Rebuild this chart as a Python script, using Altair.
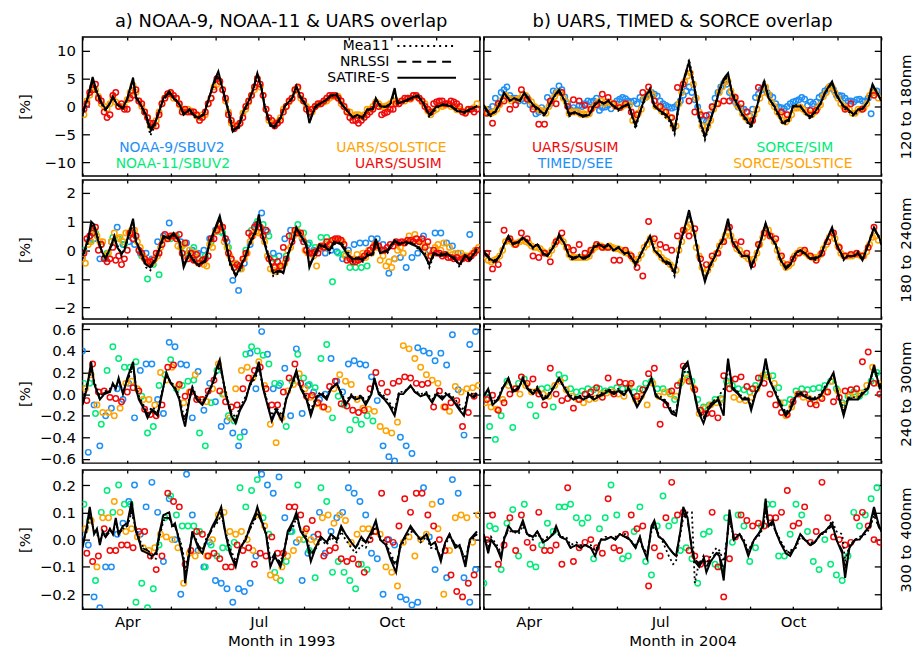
import altair as alt
import pandas as pd

FONT = "DejaVu Sans"
STEP = 4  # spacing (days) of the plotted instrument samples

INSTRUMENTS = ["NOAA-9/SBUV2", "NOAA-11/SBUV2", "UARS/SOLSTICE", "UARS/SUSIM",
               "TIMED/SEE", "SORCE/SIM", "SORCE/SOLSTICE"]
INST_COLORS = ["#1e8ff5", "#00ec78", "#ffa300", "#f00a0a",
               "#1e8ff5", "#00ec78", "#ffa300"]

MONTH_DAYS = [0, 31, 61, 92, 122, 153, 184, 214, 245, 275]   # days since 1 March
X_DOMAIN = [0, 275]
YEARS = ["1993", "2004"]
TITLES = ["a) NOAA-9, NOAA-11 & UARS overlap", "b) UARS, TIMED & SORCE overlap"]
BANDS = ["120 to 180nm", "180 to 240nm", "240 to 300nm", "300 to 400nm"]
Y_DOMAINS = [[-12.5, 12.5], [-2.4, 2.45], [-0.64, 0.65], [-0.255, 0.255]]
Y_TICKS = [[-10, -5, 0, 5, 10], [-2, -1, 0, 1, 2],
           [-0.6, -0.4, -0.2, 0, 0.2, 0.4, 0.6], [-0.2, -0.1, 0, 0.1, 0.2]]
Y_FORMATS = ["d", "d", ".1f", ".1f"]

# ---------------- 120-180 nm, 1993 ----------------
r1l_days = [0,4,7,10,13,16,19,21,24,28,31,35,37,40,44,47,50,53,56,60,63,67,70,74,77,80,84,87,91,94,
            98,101,104,108,111,115,118,121,124,126,130,133,137,140,145,148,151,155,157,161,164,168,172,176,179,184,187,190,194,197,
            201,203,206,210,213,216,218,223,227,232,236,240,245,250,255,259,264,268,273]
r1l_satire = [-1.3,2,5.3,2.5,0.8,-0.5,0.5,1.8,0.3,-0.3,1.5,5.2,1.5,0.5,-1.5,-4,-3,-1,1.5,2.7,
              1.5,0.5,-1.5,-0.5,-1.5,-2,-1.5,1,4.5,6.3,2,-1,-4.5,-3.5,-1,1,3,6,3,0,
              -3.5,-3.5,-2,0,1.5,3.7,1.5,0,-3,0,0.5,1,2,2,0.5,-1,-2,-1.5,-2,-0.5,
              -0.5,1.5,0,0,0.5,3.3,0.5,1,1.5,2,0.5,-1.5,0,0.3,0,-0.8,-1,-0.5,0]
r1l_mea11 = [-1.8,1.5,4.8,2.8,0.5,-0.8,0.8,1.5,0.5,-0.5,1.2,4.5,2,0.3,-2,-5.2,-3.5,-0.5,1.2,2.3,
             1.8,0.3,-1.2,-0.8,-1.8,-2.3,-1.2,1.2,4,5.5,2.5,-0.5,-4,-4,-1.5,0.8,2.8,5.5,3.5,0.3,
             -3,-4,-2.3,0.2,1.3,3.3,2,0.3,-2.5,-0.3,0.3,1.2,1.8,2.3,0.8,-1.2,-1.8,-1.8,-2.3,-0.8,
             -0.3,1.2,0.3,-0.3,0.3,2.5,1,0.8,1.3,1.8,0.8,-2,-0.3,0.5,0.2,-0.5,-1.2,-0.8,0.2]
r1l_nrlssi = [-1.5,1.8,4.5,2.2,0.6,-0.6,0.6,1.6,0.4,-0.4,1.3,4.8,1.8,0.4,-1.8,-4.5,-3.2,-0.8,1.3,2.5,
              1.6,0.4,-1.3,-0.6,-1.6,-2.1,-1.3,1.1,4.2,5.8,2.2,-0.8,-4.2,-3.8,-1.2,0.9,2.9,5.7,3.2,0.1,
              -3.2,-3.8,-2.1,0.1,1.4,3.5,1.7,0.1,-2.7,-0.1,0.4,1.1,1.9,2.1,0.6,-1.1,-1.9,-1.6,-2.1,-0.6,
              -0.4,1.3,0.1,-0.1,0.4,2.8,0.7,0.9,1.4,1.9,0.6,-1.7,-0.1,0.4,0.1,-0.6,-1.1,-0.6,0.1]
r1l_solstice = [-1.5,2,3,0.5,-0.5,1.5,0,0,2.5,2.5,0,-2,-3.5,-1,1.5,2.3,1.5,-0.5,-0.5,-1,-2,-1.5,1.5,4,3,-1,-3.5,-3,
                -0.5,2,5,2,-2.5,-3,-2,0,1.5,3.3,1,-1,0,0.5,1,1.8,1.8,0,-1,-1.5,-1.8,-0.5,0,0.5,0,0.5,1,1,1.5,2,
                1.5,0.5,-1.5,-0.5,0,0.5,0,-0.5,-1,-0.5,0.5]
r1l_solstice_b = [1,3.5,1.8,0,0.5,0.8,0,1.2,3.8,1,-1,-3.5,-2.5,0.5,2.2,1.5,0.3,-1,-0.8,-1.7,-1.5,0.5,3.5,4.5,1,-3,
                  -3.3,-1.2,0.8,3,3.5,-0.5,-3,-2.8,-0.5,0.8,2.8,1.5,0,-1,0.3,0.8,1.5,1.8,0.5,-0.8,-1.7,-1.5,-1.5,-0.5,
                  0.8,0,0.2,1,0.5,1,1.3,1.8,0.8,-0.8,-0.8,0.2,0.2,0,-0.6,-0.8,-0.6,-0.2]
r1l_susim = [0.5,3,1.5,-1,-1.5,2.5,0.5,-0.5,2,1,-1,-3,-3.5,0.5,2.3,2,0.5,-0.5,-1,-1.5,-2,0.5,3,4.5,1.5,-2.5,-3.5,-2,
             1,3.5,4,-0.5,-2.5,-3,-1,1,3,2,-0.5,-0.5,0.5,1,2,2,1,-1,-2.5,-3,-2,-1,0.5,-1.5,-1,-0.5,0.5,1.5,1.5,2,
             1,-0.5,0.5,1,0.5,1,0.5,-1,-0.5,-1]
r1l_susim_b = [-0.5,2.5,4,1,-2,2,0,-0.5,1.5,3,0.5,-2,-3,-1.5,1.5,2.5,1.5,-1,-1,-1,-2.5,-1,1.5,5,3,-1.5,-4,-3,0,2,
               5,2,-2,-3.5,-2.5,0,1.5,3.5,1,-1,0,0.5,1.5,2,1.5,0,-2,-2.5,-2.5,-1.5,-0.5,0,-1.2,-0.5,0.5,1,1.5,2,
               1.5,0,-1,0.8,1,0.5,0.8,0,-1.2,-0.5,-0.5]

# ---------------- 120-180 nm, 2004 ----------------
r1r_days = [0,4,8,11,14,18,21,25,28,32,35,38,42,45,49,52,56,59,63,66,69,73,76,80,83,86,90,93,97,100,
            105,108,112,115,118,123,128,132,136,139,142,146,149,153,156,160,163,166,169,172,176,179,182,185,188,191,194,197,201,204,
            207,211,214,219,222,226,229,233,236,241,244,249,252,256,259,262,266,269,273,275]
r1r_satire = [0,-1.5,-1,0.5,2.5,1,1.5,1,2.5,1,0,-0.5,-1.5,0,2,3,1,-1.5,-1,-1.5,
              -1.8,-1.5,0,1,0.5,1,0,-0.5,0,0.5,-3.5,-1,2,3,0,-1,-2,-4.5,2,5.5,
              8,3,-2,-5.5,-3,0,3,5,6,2,0,-1.5,-2.5,-3.5,-1,2,4.5,1.5,0,-1.5,
              -3,-2.5,0,0,-1,-2,-1,0.5,2.5,4.5,2,0,-0.5,-1.5,-0.5,-0.5,1,4,2,1]
r1r_mea11 = [0.3,-2,-0.8,0.8,2.2,1.2,1.2,1.3,2.2,0.8,-0.3,-0.8,-1.8,0.3,1.8,2.8,0.8,-1.8,-1.2,-1.3,
             -2,-1.3,0.3,1.2,0.3,1.2,-0.2,-0.8,0.2,0.3,-4,-1.3,1.8,3.3,0.3,-1.3,-2.5,-5,1.5,5,
             8.5,3.5,-2.5,-6,-3.5,0.3,2.8,4.5,5.5,2.5,0.3,-1.8,-2.8,-4,-1.3,1.8,4.8,1.8,-0.3,-1.8,
             -3.3,-2.8,0.3,0.2,-1.2,-2.3,-1.2,0.3,2.3,4.3,2.3,-0.3,-0.8,-1.8,-0.8,-0.3,0.8,3.8,2.3,1.2]
r1r_nrlssi = [0.2,-1.3,-0.9,0.6,2.3,1.1,1.4,1.1,2.3,0.9,0.1,-0.4,-1.4,0.1,1.9,2.7,1.1,-1.3,-1.1,-1.4,
              -1.6,-1.4,0.1,0.9,0.6,0.9,0.1,-0.4,0.1,0.4,-3.2,-1.1,1.9,2.8,0.1,-0.9,-1.8,-4.2,2.2,5.2,
              7.5,3.2,-1.8,-5.2,-2.8,0.1,2.9,4.7,5.7,2.2,0.1,-1.4,-2.3,-3.3,-0.9,2.1,4.3,1.6,0.1,-1.4,
              -2.8,-2.3,0.1,0.1,-0.9,-1.8,-0.9,0.6,2.4,4.2,2.1,0.1,-0.4,-1.4,-0.4,-0.4,0.9,3.7,2.1,1.1]
r1r_see = [-0.5,-1,1.5,2.5,3.5,1.5,1,1,0.3,-1.3,-0.2,1.6,2.8,3.7,1.7,-0.6,-0.7,0,1,1,-0.7,-0.1,-0.4,1,1.6,1,1,1.6,
           1.6,2.5,1.9,0.5,-0.1,-0.1,1,2.8,2.5,-0.1,-2.5,-1.5,1.5,3.5,4,1.5,-0.1,-0.5,-1.7,1.6,3,2.5,1.6,-0.1,-0.4,0.5,
           1,1.6,0.2,0.5,1.6,2.8,3.7,2,1.9,1,0.8,1.3,1,-1.3,2.8]
r1r_see_b = [-1,0,0.5,3,2,1.5,1.3,1.6,0,-1,-0.8,0.5,2.5,3,0.5,-0.2,0.2,0.5,0.8,1.5,-0.2,0.2,0.5,1.3,1.4,0.8,0.5,1.2,
             2.2,2.2,1,0.2,-0.3,0.3,2,3.5,1.2,-1.8,-2.8,0,2.5,4.2,2.5,0.8,-0.3,-1,-0.5,2.2,3.5,2,0.5,-0.2,0,0.8,
             1.2,1.3,0.8,0.8,2,3.2,3,2,1.5,1,1.2,1,1.5,2.5]
r1r_solstice = [-0.5,-1.2,-0.5,1.3,1.5,1.2,1.5,2,0.8,-0.3,-0.8,0,1.8,2.5,0.8,-1,-1,-1.3,-1.3,0.2,1,0.8,0.5,0,0.2,0.3,
                -2,-0.5,1.8,2,0,-1,-2,-3.5,2.5,5.5,4,-1,-4.5,-2.5,0.5,3.5,4.5,1.8,-0.2,-2,-2.8,-0.5,2.5,2.2,0,-1.5,
                -2.8,-1.5,-0.3,-0.5,-1.3,-1,0.3,2.5,3.5,1.5,0,-0.5,-1.2,-0.5,0.5,2.8,1.5]
r1r_solstice_b = [-1.2,-1,0.3,2,1,1.2,2.2,1.2,0,-0.7,-1.2,0.8,2.5,1.5,-1.2,-1,-1.4,-1.5,-0.3,0.8,0.5,0.8,0,-0.2,0.3,
                  -2.5,-1.2,1.5,2.5,0,-0.8,-1.7,-3.5,0.5,4.5,6,1.5,-3.5,-3.5,-0.5,2.5,4.5,2.8,0.3,-1.3,-2.5,-1.5,1.5,
                  3.5,0.8,-1,-2.5,-2.2,-0.3,-0.1,-1,-1.5,-0.3,1.8,3.5,2.5,0.5,-0.3,-1.2,-0.5,-0.3,2,2.5]
r1r_susim = [-1.2,-3,0.5,1,-0.5,0.3,3,1.3,-0.5,-3.2,-3.2,1,0.5,2.5,0,1.2,1,0.2,-0.5,0.3,2.2,1.6,0.5,-0.2,0.5,-1,
             -1.5,2.5,3.5,1,0,-1,-2,3.4,4,1,-1,-1.5,-1.6,-0.1,0.5,1,1,1.6,0.5,-1,-2.5,3.4,None,None,None,-1,
             -1.5,None,None,None,-0.7,-0.7,None,None,None,None,-0.5,0.5,None,-0.5,None,2]

# ---------------- 180-240 nm, 1993 ----------------
r2l_days = [0,4,6,8,11,14,16,20,22,24,27,29,31,35,37,40,44,47,51,54,56,60,63,67,70,74,77,80,85,88,
            92,95,99,102,106,109,113,116,120,122,125,129,132,136,139,142,146,148,151,155,157,161,164,168,171,174,179,184,187,190,
            194,197,201,203,206,211,216,219,224,228,233,237,240,243,248,252,257,261,265,268,273]
r2l_satire = [-0.2,0.4,1.0,0.9,0.3,-0.1,-0.3,0.2,0.5,0.1,-0.1,0.0,0.4,1.1,0.3,0.0,-0.5,-0.6,-0.3,0.2,
              0.5,0.4,0.6,0.3,-0.6,-0.1,-0.4,-0.5,-0.4,0.3,0.8,1.2,0.3,-0.4,-0.9,-0.6,-0.2,0.3,0.7,1.25,
              0.4,-0.3,-0.8,-0.7,-0.8,-0.2,0.4,0.8,0.5,0.2,-0.6,-0.1,0.2,0.1,0.0,0.3,0.2,-0.2,-0.3,-0.3,
              -0.3,-0.2,-0.1,0.4,-0.1,0.0,0.35,0.2,0.3,0.2,0.1,-0.2,-0.5,-0.1,-0.2,-0.1,-0.3,-0.5,-0.2,-0.3,0.0]
r2l_mea11 = [-0.3,0.3,0.9,0.8,0.4,-0.2,-0.2,0.1,0.4,0.2,-0.2,0.1,0.3,0.9,0.4,-0.1,-0.6,-0.7,-0.2,0.1,
             0.4,0.5,0.5,0.4,-0.5,-0.2,-0.3,-0.6,-0.3,0.2,0.7,1.1,0.4,-0.5,-0.9,-0.7,-0.1,0.2,0.6,1.1,
             0.5,-0.2,-0.9,-0.8,-0.7,-0.1,0.3,0.7,0.6,0.1,-0.5,-0.2,0.1,0.2,-0.1,0.2,0.3,-0.1,-0.4,-0.2,
             -0.4,-0.1,-0.2,0.3,0.0,-0.1,0.3,0.3,0.2,0.3,0.0,-0.1,-0.6,-0.2,-0.1,-0.2,-0.2,-0.6,-0.1,-0.4,0.1]
r2l_nrlssi = [-0.2,0.35,0.85,0.85,0.35,-0.15,-0.25,0.15,0.45,0.15,-0.15,0.05,0.35,1.0,0.35,-0.05,-0.55,-0.55,-0.25,0.15,
              0.45,0.45,0.55,0.35,-0.5,-0.15,-0.35,-0.5,-0.35,0.25,0.75,1.1,0.35,-0.45,-0.85,-0.65,-0.15,0.25,0.65,1.15,
              0.45,-0.25,-0.8,-0.75,-0.75,-0.15,0.35,0.75,0.55,0.15,-0.5,-0.15,0.15,0.15,-0.05,0.25,0.25,-0.15,-0.35,-0.25,
              -0.35,-0.15,-0.15,0.35,-0.05,-0.05,0.3,0.25,0.25,0.25,0.05,-0.15,-0.5,-0.15,-0.15,-0.15,-0.25,-0.5,-0.15,-0.35,0.05]
r2l_noaa9 = [-0.3,0.3,0.4,-0.3,-0.3,0.3,0.8,0.2,0.3,0.2,-0.1,-0.1,-0.3,0.3,0.5,0.95,0.5,0.3,0.25,0,-0.1,0,0.4,0.7,
             0.65,0.3,-1.05,-1.4,-0.45,0.2,0.9,1.3,0.65,-0.1,-0.2,0.4,0.7,0.7,0.4,0.2,0,0.05,-0.1,0,-0.05,-0.3,0,0.2,
             0.25,0.25,0.4,0.4,0.2,-0.8,-0.3,-0.25,-0.6,-0.25,-0.1,0.5,0,0.6,0.6,0.25,0.15,-0.1,-0.2,0.55,0]
r2l_noaa11 = [0,0.3,0.6,0.2,-0.1,0.45,0.4,0.2,0.55,0.5,-0.2,-1,-0.5,-0.85,0.4,0.4,0.5,0.15,-0.1,0.1,-0.3,-0.2,0.3,0.65,
              0.6,0.1,-0.5,-0.65,0,0.7,1,0.9,0.5,-0.3,-0.55,-0.2,0.5,0.9,0.6,0.25,0.1,0.45,0.45,-1.1,-0.1,-0.15,-0.6,-0.6,
              -0.6,-0.55]
r2l_solstice = [-0.45,0.3,0.5,0.3,-0.1,0.6,0.45,0.6,0.7,0.3,-0.2,-0.4,-0.3,0.1,0.4,0.5,0.15,0.2,0,-0.1,-0.4,-0.55,0.1,0.7,
                0.3,-0.2,-0.45,-0.65,-0.1,0.5,0.6,0.3,-0.65,-0.75,-0.55,0,0.5,0.6,0,-0.1,-0.55,0.1,0.1,0.35,0.35,-0.2,-0.35,-0.15,
                -0.1,0,0.2,-0.35,-0.55,-0.6,0,-0.1,0.5,0.55,0.3,0.15,-0.1,0.2,0.25,0.1,-0.1,-0.1,-0.2,-0.1,0.1]
r2l_solstice_b = [-0.3,0.2,0.7,0.3,-0.2,0.3,0.4,0.3,0.6,0.7,0.1,-0.35,-0.45,-0.2,0.4,0.45,0.5,0.1,-0.2,-0.3,-0.45,-0.5,
                  0.2,0.65,0.8,0.1,-0.5,-0.6,-0.3,0.3,0.65,0.6,-0.2,-0.7,-0.6,-0.45,0.1,0.7,0.45,-0.1,-0.2,0.1,0.2,0.25,
                  0.35,0.3,-0.1,-0.3,-0.3,-0.25,-0.1,0.1,-0.2,-0.4,-0.3,0.1,0.3,0.35,0.2,0,-0.2,0.1,0,-0.15,-0.15,-0.25,
                  -0.2,-0.2,0]
r2l_susim = [0.4,0.6,0,-0.3,-0.3,-0.35,-0.5,0,0.4,0,-0.3,-0.4,-0.1,0.2,0.4,0.5,0.55,0.25,-0.1,-0.15,-0.35,-0.2,0.4,0.9,
             0.4,-0.3,-0.5,-0.3,0.6,0.8,0.8,0.7,-0.4,-0.4,0.1,0.5,0.7,0.6,0,-0.1,-0.1,0.1,0.2,0.4,0.35,-0.35,-0.4,-0.35,
             -0.2,0,0.2,0,0.1,0.15,0.25,0.25,0.35,0.4,0.4,0.3,0,-0.1,-0.15,-0.25,-0.25,-0.3,-0.3,-0.1]
r2l_susim_b = [-0.1,0.5,0.8,0.2,-0.4,0.1,-0.2,-0.3,0.6,0.5,-0.1,-0.4,-0.35,-0.1,0.55,0.5,0.4,-0.1,-0.3,-0.35,-0.45,-0.3,
               0.4,0.7,0.8,-0.1,-0.6,-0.55,-0.1,0.5,0.9,0.5,-0.3,-0.6,-0.55,-0.3,0.3,0.6,0.3,-0.1,-0.05,0.15,0.3,0.35,
               0.4,0.2,-0.3,-0.4,-0.3,-0.1,0.1,0.15,0,0.2,0.3,0.3,0.35,0.3,0.3,0.1,-0.2,-0.1,-0.2,-0.25,-0.3,-0.35,
               -0.25,-0.2,0]

# ---------------- 180-240 nm, 2004 ----------------
r2r_days = [0,4,8,11,14,17,20,24,27,30,34,37,41,44,48,51,52,56,59,62,66,69,73,76,80,83,86,90,93,97,
            100,105,108,112,115,118,122,125,129,132,136,139,142,146,149,153,156,160,163,165,169,172,176,179,183,185,188,192,195,198,
            202,205,209,212,216,219,222,226,229,233,236,241,244,249,252,256,259,262,266,270,274,275]
r2r_satire = [-0.1,-0.3,-0.4,-0.2,0.2,0.5,0.2,0.3,0.45,0.3,0.1,0.2,-0.1,-0.2,0.1,0.4,0.55,0.2,-0.2,-0.3,
              -0.2,-0.3,-0.2,0.1,0.2,0.1,0.2,0.0,0.1,-0.1,-0.1,-0.5,-0.2,0.2,0.5,0.0,-0.2,-0.4,-0.5,-0.8,
              0.3,0.8,1.4,0.5,-0.3,-1.1,-0.6,-0.2,0.2,0.3,1.1,0.3,0.0,-0.2,-0.2,-0.6,-0.2,0.4,0.95,0.5,
              0.2,-0.3,-0.65,-0.5,-0.1,0.0,-0.1,-0.3,-0.3,-0.2,0.2,0.8,0.2,-0.3,-0.2,-0.2,-0.1,-0.35,0.2,0.8,0.4,0.2]
r2r_mea11 = [0.0,-0.35,-0.45,-0.15,0.15,0.45,0.25,0.25,0.4,0.35,0.05,0.25,-0.15,-0.15,0.15,0.35,0.5,0.25,-0.25,-0.35,
             -0.15,-0.35,-0.15,0.15,0.25,0.05,0.25,-0.05,0.15,-0.15,-0.05,-0.55,-0.25,0.25,0.45,0.05,-0.25,-0.45,-0.55,-0.9,
             0.2,0.75,1.3,0.6,-0.35,-1.0,-0.7,-0.15,0.15,0.35,1.0,0.35,-0.05,-0.25,-0.15,-0.65,-0.25,0.35,0.9,0.55,
             0.15,-0.35,-0.6,-0.55,-0.05,-0.05,-0.15,-0.25,-0.35,-0.15,0.25,0.75,0.25,-0.35,-0.15,-0.25,-0.05,-0.3,0.15,0.75,0.45,0.25]
r2r_nrlssi = [-0.05,-0.25,-0.35,-0.2,0.2,0.45,0.2,0.3,0.4,0.3,0.1,0.2,-0.1,-0.2,0.1,0.35,0.5,0.2,-0.2,-0.25,
              -0.2,-0.25,-0.2,0.1,0.2,0.1,0.15,0.0,0.1,-0.1,-0.1,-0.45,-0.2,0.2,0.45,0.0,-0.2,-0.35,-0.45,-0.75,
              0.3,0.75,1.3,0.5,-0.3,-1.0,-0.55,-0.2,0.2,0.3,1.0,0.3,0.0,-0.2,-0.2,-0.55,-0.2,0.4,0.9,0.45,
              0.2,-0.3,-0.6,-0.45,-0.1,0.0,-0.1,-0.3,-0.25,-0.2,0.2,0.75,0.2,-0.25,-0.2,-0.2,-0.1,-0.3,0.2,0.75,0.4,0.2]
r2r_solstice = [-0.2,-0.4,-0.3,0,0.35,0.2,0.3,0.3,0.15,0.1,-0.05,-0.15,0.2,0.4,0.1,-0.25,-0.25,-0.25,-0.2,0.1,0.15,0.1,
                0.1,0.05,-0.05,-0.15,-0.4,-0.15,0.2,0.3,-0.1,-0.35,-0.5,-0.7,0.3,0.8,0.6,-0.2,-0.8,-0.5,-0.1,0.3,0.6,0.3,
                0,-0.2,-0.4,-0.1,0.45,0.7,0.3,-0.25,-0.6,-0.45,-0.1,-0.05,-0.2,-0.25,-0.15,0.2,0.6,0.15,-0.2,-0.2,-0.15,
                -0.2,-0.05,0.45,0.35]
r2r_solstice_b = [-0.35,-0.35,-0.2,0.3,0.3,0.25,0.35,0.25,0.1,0.05,-0.1,0,0.35,0.3,-0.15,-0.25,-0.25,-0.25,0,0.15,0.1,
                  0.15,0.05,0,-0.1,-0.3,-0.3,0.1,0.4,0,-0.25,-0.4,-0.6,0,0.7,0.9,0.1,-0.6,-0.7,-0.3,0.15,0.5,0.5,0.05,
                  -0.15,-0.3,-0.3,0.2,0.7,0.5,0,-0.45,-0.55,-0.2,0,-0.1,-0.25,-0.25,0.05,0.45,0.4,-0.1,-0.2,-0.2,-0.15,
                  -0.2,0.2,0.5]
r2r_susim = [-0.1,-0.65,-0.5,0.7,0.4,0.2,0.6,0.4,-0.2,-0.25,-0.1,-0.4,0.3,0.6,0.1,0,0.2,-0.1,0,0.2,0.1,0.1,-0.35,-0.35,
             0,-0.2,-0.6,-0.9,1,0.4,0.2,0.1,0,0.5,0.7,0.5,0.75,-0.3,-0.5,-0.2,-0.1,0.3,0.8,0.2,0.3,-0.1,-0.5,0.2,0.6,
             0.5,0.4,-0.2,-0.5,-0.3,-0.1,0,-0.2,-0.35,-0.1,0.3,0.6,0.1,-0.2,-0.15,-0.1,-0.2,0.1,0.8]

# ---------------- 240-300 nm, 1993 ----------------
r3l_days = [0,3,6,8,12,15,19,21,23,25,28,31,35,37,39,43,45,48,52,55,58,61,64,67,69,71,74,76,79,83,
            86,90,93,95,99,101,103,106,109,113,116,120,122,125,129,131,134,138,141,145,148,151,155,158,162,165,169,172,176,179,
            182,186,189,193,196,200,202,205,209,212,216,219,222,227,230,234,238,242,245,249,252,256,261,264,267,271,273]
r3l_satire = [-0.1,0.05,0.3,0.1,-0.05,0.0,0.02,0.1,0.05,0.15,0.0,0.15,0.3,0.05,-0.05,-0.15,-0.22,-0.15,-0.2,0.0,
              0.2,0.1,0.05,-0.05,-0.2,-0.3,-0.05,0.05,-0.05,-0.1,-0.02,0.1,0.25,0.32,0.0,-0.1,-0.2,-0.27,-0.15,-0.05,
              0.1,0.2,0.3,0.05,-0.15,-0.25,-0.15,-0.25,-0.05,0.1,0.22,0.05,-0.05,-0.2,-0.03,0.0,-0.05,0.05,0.1,0.0,
              -0.1,-0.02,-0.05,-0.03,-0.1,0.0,0.15,0.0,-0.05,-0.1,-0.2,0.0,0.0,0.08,0.02,-0.02,0.0,-0.08,0.0,-0.05,
              0.0,-0.05,-0.15,-0.2,0.0,-0.03,0.0]
r3l_mea11 = [-0.05,0.08,0.22,0.12,-0.02,0.02,0.05,0.08,0.07,0.12,0.03,0.12,0.25,0.08,-0.02,-0.12,-0.18,-0.12,-0.16,0.02,
             0.16,0.12,0.07,-0.02,-0.15,-0.22,-0.03,0.07,-0.02,-0.07,0.0,0.08,0.2,0.26,0.03,-0.07,-0.16,-0.22,-0.12,-0.02,
             0.08,0.16,0.24,0.07,-0.12,-0.2,-0.12,-0.2,-0.03,0.08,0.18,0.07,-0.02,-0.15,-0.01,0.02,-0.02,0.06,0.09,0.02,
             -0.07,0.0,-0.03,-0.01,-0.07,0.02,0.12,0.02,-0.02,-0.07,-0.15,0.02,0.02,0.07,0.03,0.0,0.02,-0.05,0.02,-0.02,
             0.02,-0.02,-0.1,-0.15,0.02,-0.01,0.02]
r3l_nrlssi = [-0.08,0.06,0.26,0.1,-0.04,0.01,0.03,0.09,0.06,0.13,0.01,0.13,0.27,0.06,-0.04,-0.14,-0.2,-0.14,-0.18,0.01,
              0.18,0.11,0.06,-0.04,-0.18,-0.26,-0.04,0.06,-0.04,-0.09,-0.01,0.09,0.22,0.29,0.01,-0.09,-0.18,-0.25,-0.14,-0.04,
              0.09,0.18,0.27,0.06,-0.14,-0.23,-0.14,-0.23,-0.04,0.09,0.2,0.06,-0.04,-0.18,-0.02,0.01,-0.04,0.05,0.09,0.01,
              -0.09,-0.01,-0.04,-0.02,-0.09,0.01,0.13,0.01,-0.04,-0.09,-0.18,0.01,0.01,0.07,0.02,-0.01,0.01,-0.07,0.01,-0.04,
              0.01,-0.04,-0.13,-0.18,0.01,-0.02,0.01]
r3l_noaa9 = [0.4,-0.54,-0.1,-0.48,-0.2,-0.13,0.05,-0.05,0.1,-0.22,0.22,0.28,0.28,-0.05,-0.18,0.48,0.44,0.28,0.27,-0.22,
             0.21,-0.15,0.1,-0.07,-0.3,-0.25,-0.36,-0.48,-0.35,0.38,0.05,0.58,0.37,0.05,0.08,0.24,-0.2,0.42,-0.18,0.08,
             0.02,-0.05,0,0.33,0.12,0.02,0.28,0.31,0.28,0.27,0.16,-0.06,-0.48,-0.58,-0.62,-0.4,-0.48,-0.55,0.43,0.4,
             0.38,0.31,0.38,0.27,0.55,0.04,-0.38,0.46,0.58]
r3l_noaa11 = [0.1,0.1,-0.18,-0.28,0.22,0.44,0.33,0.25,0.25,0.3,-0.02,-0.36,-0.3,0.08,0.18,0.32,0.05,0.08,0.12,0.13,
              -0.36,-0.48,-0.08,0.22,0,-0.2,-0.25,-0.4,0.37,0.44,0.4,0.36,0.28,0.1,0.1,-0.3,0.12,0.37,0.15,0.09,
              0.06,0.33,0.46,-0.22,-0.02,-0.1,-0.33,-0.24,-0.28,-0.2,-0.25]
r3l_solstice = [0.05,0.18,-0.1,-0.17,-0.17,-0.2,-0.13,0.1,0.12,0.05,-0.05,-0.05,-0.1,0.2,0.13,0.25,0.07,-0.08,0.02,0.18,
                -0.05,-0.07,0.05,0.28,0,-0.22,0.05,0.22,0.25,0.15,0.3,0.08,-0.28,-0.45,-0.22,0.03,0.09,0.19,0.05,-0.03,
                -0.09,-0.12,-0.14,0.05,0.18,0.12,0.09,-0.05,-0.13,-0.14,-0.16,-0.3,-0.34,-0.36,-0.26,0.45,0.42,0.33,0.25,0.18,
                0.13,0.1,-0.12,-0.16,0.07,0.02,0.05,0.06,0.08]
r3l_susim = [-0.06,0.28,0.02,0.03,-0.03,-0.04,-0.07,0.02,0.06,0.03,-0.14,-0.19,-0.2,-0.1,0.25,0.27,0.09,-0.02,0.02,-0.05,
             -0.05,0.03,0.13,0.03,-0.07,-0.12,-0.1,0.05,0.15,0.22,0.25,0.05,-0.1,-0.1,0.02,0.15,0.28,0.1,-0.02,-0.01,
             -0.08,-0.12,0.07,0.12,-0.09,-0.11,-0.15,-0.17,-0.15,0.05,0.2,0.1,0.02,0.1,0.12,0.16,0.15,0.1,0.09,0.1,
             -0.12,0.03,-0.12,-0.08,-0.06,-0.3,-0.17,-0.02]

# ---------------- 240-300 nm, 2004 ----------------
r3r_days = [0,3,6,10,13,17,20,24,27,30,34,37,41,44,48,51,52,56,59,62,66,69,73,76,80,83,86,90,93,97,
            100,102,106,109,113,116,119,123,126,130,133,136,138,141,145,148,152,155,158,162,166,167,169,172,176,179,183,185,188,192,
            195,198,202,205,209,212,216,219,222,226,229,233,236,242,245,249,252,256,259,262,266,270,274,275]
r3r_satire = [-0.02,0.05,-0.1,-0.05,0.05,0.15,0.02,0.05,0.15,0.05,0.0,0.05,-0.05,-0.03,0.05,0.13,0.15,0.05,-0.02,-0.05,
              -0.03,-0.05,-0.02,-0.05,-0.02,0.0,0.03,0.0,0.03,-0.01,0.05,0.0,-0.12,-0.05,0.05,0.15,-0.02,-0.05,-0.08,-0.18,
              -0.2,0.05,0.25,0.3,0.05,-0.15,-0.27,-0.15,-0.1,-0.05,-0.2,0.05,0.33,0.05,0.0,-0.05,-0.05,-0.15,0.0,0.1,
              0.33,0.12,0.0,-0.1,-0.2,-0.15,-0.02,0.0,-0.02,-0.05,-0.05,-0.02,0.05,0.2,0.0,-0.2,-0.05,-0.05,-0.05,0.0,
              0.05,0.27,0.05,0.1]
r3r_mea11 = [0.0,0.03,-0.08,-0.03,0.07,0.12,0.04,0.07,0.12,0.07,0.02,0.07,-0.03,-0.01,0.07,0.11,0.12,0.07,0.0,-0.03,
             -0.01,-0.03,0.0,-0.03,0.0,0.02,0.05,0.02,0.05,0.01,0.07,0.02,-0.1,-0.03,0.07,0.13,0.0,-0.03,-0.06,-0.15,
             -0.17,0.07,0.2,0.22,0.07,-0.12,-0.22,-0.12,-0.07,-0.03,0.05,0.07,0.25,0.07,0.02,-0.03,-0.03,-0.12,0.02,0.12,
             0.28,0.13,0.02,-0.07,-0.17,-0.12,0.0,0.02,0.0,-0.03,-0.03,0.0,0.07,0.17,0.02,-0.15,-0.03,-0.03,-0.03,0.02,
             0.07,0.23,0.07,0.1]
r3r_nrlssi = [-0.01,0.04,-0.09,-0.04,0.06,0.14,0.03,0.06,0.14,0.06,0.01,0.06,-0.04,-0.02,0.06,0.12,0.14,0.06,-0.01,-0.04,
              -0.02,-0.04,-0.01,-0.04,-0.01,0.01,0.04,0.01,0.04,0.0,0.06,0.01,-0.11,-0.04,0.06,0.14,-0.01,-0.04,-0.07,-0.16,
              -0.18,0.06,0.22,0.27,0.06,-0.13,-0.24,-0.13,-0.08,-0.04,-0.15,0.06,0.3,0.06,0.01,-0.04,-0.04,-0.13,0.01,0.11,
              0.3,0.12,0.01,-0.08,-0.18,-0.13,-0.01,0.01,-0.01,-0.04,-0.04,-0.01,0.06,0.18,0.01,-0.18,-0.04,-0.04,-0.04,0.01,
              0.06,0.25,0.06,0.1]
r3r_sim = [-0.02,-0.3,-0.42,-0.2,0.12,-0.31,0.1,0.14,-0.1,-0.2,0.05,0.06,-0.12,0.18,0.15,0.05,0.02,0.03,0.05,0.04,
           0.05,0.03,0.04,0.06,0.05,0.06,0.02,0.05,0.1,0.12,0.05,0.05,0.02,-0.05,0.1,0.18,0.12,-0.05,-0.12,-0.1,
           -0.05,-0.04,0.12,0.08,0.05,0.04,0.02,0.08,0.15,0.18,0.17,0.06,-0.08,-0.05,0.03,0.05,0.04,0.05,0.06,0.08,
           0.12,0.05,-0.08,-0.02,0.02,-0.02,0.02,0.12,0.2]
r3r_solstice = [-0.08,-0.12,-0.14,-0.05,0.08,0.05,0,0.08,0.02,0.03,0,-0.02,0.08,0.12,0.04,-0.02,-0.05,-0.08,-0.05,-0.04,
                0,0.01,0.02,0,-0.02,0.08,-0.05,-0.02,-0.1,0.1,-0.02,0.02,0,-0.02,0.12,0.15,0.06,-0.18,-0.13,-0.1,
                -0.08,-0.05,0.1,-0.03,-0.05,-0.06,-0.03,0.05,0.17,0.16,0.1,-0.08,-0.2,-0.12,0,-0.03,-0.04,-0.07,-0.03,0.02,
                0.12,0.03,-0.1,-0.02,0,0.01,0.08,0.25,0.1]
r3r_susim = [-0.05,-0.01,-0.15,-0.08,0,0.05,0.16,0.1,0.14,0,-0.1,0.24,0,-0.06,-0.04,-0.13,-0.05,0,0.02,0.06,
             -0.03,0.15,0,0.11,0.1,0.1,-0.02,0.04,0.19,0.24,-0.28,-0.1,0.03,0.08,0.26,0.12,0.04,-0.15,-0.18,-0.18,
             -0.22,0.17,0.05,0.14,0.16,0.07,0.05,0.15,0.1,0,-0.1,-0.17,-0.19,-0.07,0,0,-0.09,-0.1,-0.04,0.02,
             -0.07,-0.03,0.03,0.04,0.05,0.3,0.39,0.1,0]

# ---------------- 300-400 nm, 1993 ----------------
r4l_days = [0,3,5,8,10,12,14,16,19,21,23,25,28,31,34,37,39,41,45,48,51,53,56,60,62,64,68,70,71,74,
            76,78,80,83,86,90,93,96,99,102,106,109,113,116,120,121,125,127,130,133,137,139,142,146,148,151,155,158,162,165,
            169,172,176,179,182,186,189,193,196,200,203,206,210,213,217,220,224,227,231,234,238,241,244,248,251,254,258,261,265,268,273]
r4l_satire = [-0.03,0.05,0.12,0.02,0.04,-0.02,0.03,0.01,0.04,0.02,0.08,0.02,0.05,0.06,0.14,0.03,0.0,-0.04,-0.05,-0.06,
              -0.05,0.02,0.09,0.1,0.05,0.06,-0.03,-0.08,-0.16,-0.05,0.03,0.0,-0.03,-0.05,0.0,0.05,0.08,0.12,0.02,-0.05,
              -0.1,-0.03,0.0,0.05,0.1,0.12,0.05,0.02,-0.1,-0.06,-0.1,-0.06,0.03,0.07,0.1,0.03,0.0,-0.08,-0.02,0.01,
              -0.01,0.02,0.0,0.05,0.02,-0.01,-0.03,0.01,-0.01,0.03,0.07,0.0,-0.02,-0.07,-0.12,-0.02,0.02,0.05,0.02,0.0,
              0.02,-0.02,-0.01,-0.08,-0.01,0.02,-0.03,-0.02,-0.1,0.0,0.03]
r4l_mea11 = [-0.01,0.03,0.09,0.03,0.02,0.0,0.02,0.02,0.03,0.03,0.06,0.03,0.04,0.05,0.1,0.04,0.01,-0.02,-0.04,-0.07,
             -0.07,0.0,0.07,0.08,0.06,0.05,-0.01,-0.06,-0.12,-0.04,0.02,0.01,-0.02,-0.04,0.01,0.04,0.06,0.09,0.03,-0.03,
             -0.08,-0.04,0.01,0.04,0.08,0.1,0.06,0.03,-0.07,-0.07,-0.08,-0.05,0.02,0.05,0.08,0.04,0.01,-0.05,-0.03,0.0,
             -0.02,0.01,-0.01,0.03,0.0,-0.03,-0.05,-0.02,-0.03,0.01,0.05,0.01,-0.01,-0.05,-0.09,-0.03,0.01,0.03,0.02,-0.01,
             0.01,-0.03,-0.03,-0.06,-0.02,0.01,-0.02,-0.03,-0.07,-0.01,0.02]
r4l_nrlssi = [-0.02,0.04,0.1,0.03,0.03,-0.01,0.02,0.01,0.03,0.02,0.07,0.02,0.04,0.05,0.12,0.03,0.0,-0.03,-0.04,-0.05,
              -0.05,0.01,0.08,0.08,0.05,0.05,-0.02,-0.07,-0.13,-0.04,0.02,0.0,-0.02,-0.04,0.0,0.04,0.07,0.1,0.02,-0.04,
              -0.09,-0.03,0.0,0.04,0.09,0.1,0.05,0.02,-0.08,-0.05,-0.09,-0.05,0.02,0.06,0.09,0.03,0.0,-0.06,-0.02,0.01,
              -0.01,0.02,0.0,0.04,0.02,-0.01,-0.03,0.0,-0.01,0.02,0.06,0.0,-0.02,-0.06,-0.1,-0.02,0.02,0.04,0.02,0.0,
              0.02,-0.02,-0.01,-0.07,-0.01,0.02,-0.02,-0.02,-0.08,0.0,0.02]
r4l_noaa9 = [0.02,-0.02,-0.21,-0.25,-0.1,-0.1,0.02,0.06,0.14,0.2,0.02,0.12,0.21,0.1,-0.08,0.15,0,-0.2,0.24,0.09,
             -0.04,-0.1,-0.01,-0.15,-0.16,-0.18,-0.23,-0.18,-0.19,-0.16,-0.06,0.24,0.2,0.17,0.23,0.08,0.03,-0.01,-0.15,-0.05,
             0.01,0.1,-0.05,0.03,0.08,0.1,0.19,0.17,0.14,0.09,-0.05,-0.07,-0.2,0,-0.02,-0.21,-0.22,-0.24,-0.23,0.19,
             0.01,-0.11,0.14,-0.14,0.22,0.17,-0.14,-0.23,-0.11]
r4l_noaa11 = [0.13,0.07,-0.15,0.1,0.18,0.1,0.2,0.13,0.13,-0.23,-0.16,-0.25,-0.18,-0.02,0.08,0.16,0.09,0.05,0.05,0.05,
              0.03,-0.1,-0.02,-0.06,-0.03,-0.03,-0.01,0.19,0.12,0.18,0.22,0.08,0.02,-0.12,-0.15,-0.08,0.03,0.2,0,-0.04,
              -0.14,0.19,0.14,-0.12,-0.08,-0.12,-0.15,-0.18,-0.09,-0.11]
r4l_solstice = [0.04,0.07,-0.1,0.08,0.08,0.14,0.1,0.03,0.04,0.01,-0.03,-0.04,-0.03,0.02,0.01,0,-0.03,-0.16,-0.05,-0.06,
                -0.04,-0.06,0,0.09,0.1,0.03,0.02,0.03,0,-0.04,0.09,0.05,-0.13,-0.14,-0.1,-0.06,-0.04,0,0.03,0,
                -0.01,0.08,0.09,0.06,0.09,0.07,-0.01,0.02,0.04,0.04,0.03,0.02,-0.1,-0.12,-0.17,-0.01,0.01,-0.06,0,0.02,
                0.13,0.04,-0.2,-0.04,0.08,0.09,0.08,-0.01,0.09]
r4l_susim = [-0.05,-0.08,-0.06,0.04,-0.04,-0.04,-0.02,-0.02,-0.03,0.03,0.03,-0.06,-0.11,-0.06,0.17,0.14,0.12,-0.09,-0.04,0.03,
             0.02,-0.06,-0.05,-0.07,-0.1,-0.1,-0.02,-0.04,-0.03,-0.09,-0.05,-0.06,0.01,-0.05,-0.05,0.12,0.12,0.09,0.04,0.07,
             0.02,-0.06,-0.04,-0.03,-0.07,-0.08,-0.07,-0.09,-0.12,0,0.03,0.17,0,-0.01,0.05,0.15,0.1,0.17,0.17,0.09,
             0.05,0,-0.04,-0.13,-0.19,-0.21,-0.16,-0.13]

# ---------------- 300-400 nm, 2004 ----------------
r4r_days = [0,3,5,9,12,14,17,20,24,27,30,34,37,41,44,48,50,53,57,60,64,67,70,74,77,81,84,88,91,94,
            98,101,105,108,110,113,116,118,121,124,128,131,133,136,138,141,144,146,149,152,154,157,161,163,166,170,173,177,180,183,
            187,190,193,195,197,200,202,205,209,212,216,219,222,226,229,233,236,241,244,248,250,253,257,260,264,267,270,273,275]
r4r_satire = [0.02,-0.05,0.0,-0.03,-0.07,0.0,0.05,0.03,0.03,0.07,0.02,0.01,0.03,-0.01,0.0,0.02,0.05,0.01,0.0,-0.03,
              -0.02,-0.03,-0.02,-0.03,-0.06,0.0,0.0,0.01,0.0,0.02,0.01,0.0,-0.03,0.01,-0.03,-0.07,0.05,0.07,0.01,0.0,
              -0.03,-0.05,-0.06,0.03,0.12,0.08,-0.04,-0.08,-0.1,-0.07,-0.12,-0.08,-0.05,-0.06,-0.15,0.11,0.0,0.02,-0.01,-0.06,
              0.0,0.02,0.05,0.15,0.05,0.07,0.03,-0.01,-0.05,-0.06,-0.02,0.02,0.0,-0.02,-0.01,0.02,0.03,0.06,0.0,-0.05,
              -0.14,-0.03,0.0,0.0,0.03,0.05,0.12,0.06,0.03]
r4r_mea11 = [0.0,-0.03,0.01,-0.02,-0.05,0.01,0.03,0.03,0.02,0.05,0.02,0.0,0.02,0.0,0.01,0.02,0.03,0.01,0.01,-0.02,
             -0.01,-0.02,-0.02,-0.02,-0.04,0.0,0.01,0.01,0.01,0.02,0.02,0.0,-0.02,0.0,-0.03,-0.05,0.03,0.05,0.02,-0.01,
             -0.06,-0.09,-0.08,0.02,0.08,0.1,0.1,-0.16,-0.08,-0.08,-0.09,-0.06,-0.03,-0.04,-0.08,0.07,0.01,0.02,0.0,-0.04,
             0.0,0.01,0.04,0.11,0.06,0.05,0.03,0.0,-0.04,-0.04,-0.03,0.01,0.0,-0.01,-0.01,0.02,0.02,0.07,0.03,0.02,
             -0.08,-0.02,0.0,0.01,0.02,0.04,0.09,0.05,0.03]
r4r_nrlssi = [0.01,-0.04,0.0,-0.03,-0.06,0.0,0.04,0.03,0.03,0.06,0.02,0.01,0.03,-0.01,0.0,0.02,0.04,0.01,0.0,-0.03,
              -0.02,-0.03,-0.02,-0.03,-0.05,0.0,0.0,0.01,0.0,0.02,0.01,0.0,-0.03,0.01,-0.03,-0.06,0.04,0.06,0.01,0.0,
              -0.03,-0.05,-0.06,0.03,0.1,0.07,-0.03,-0.07,-0.09,-0.06,-0.1,-0.07,-0.05,-0.05,-0.12,0.09,0.0,0.02,-0.01,-0.05,
              0.0,0.02,0.04,0.12,0.05,0.06,0.03,-0.01,-0.04,-0.05,-0.02,0.02,0.0,-0.02,-0.01,0.02,0.03,0.05,0.0,-0.04,
              -0.11,-0.03,0.0,0.0,0.03,0.04,0.1,0.05,0.03]
r4r_sim = [-0.16,0.05,0.04,-0.11,0.06,0.11,-0.06,0.13,-0.09,-0.1,-0.02,0.06,0.03,0.12,0.12,0.13,0.08,0.06,0.08,-0.07,
           0.04,0.08,0.2,0.09,-0.07,-0.06,0.03,0.12,-0.08,-0.13,0.05,0.16,0.05,0.07,-0.04,-0.03,-0.07,-0.16,0.02,0.03,
           -0.09,-0.1,0.08,-0.01,0.09,0.05,-0.08,-0.03,0.05,0.13,0.13,-0.06,-0.06,0.02,0.13,0.09,0.03,-0.08,-0.11,0,
           -0.09,-0.13,-0.15,-0.06,0.1,0.05,0.09,0.15,0.19]
r4r_susim = [0,0.09,-0.09,-0.02,0.08,-0.04,0.09,-0.01,-0.03,0.1,-0.04,-0.04,-0.02,-0.09,0.19,-0.08,-0.03,-0.01,0,-0.03,
             -0.05,0.15,-0.03,-0.04,0.02,0.09,0.04,0.05,-0.17,-0.03,-0.06,0.08,0.21,0.09,0.1,-0.04,-0.06,-0.09,-0.07,0.1,
             -0.1,-0.21,-0.07,0.01,0.09,0.07,0.05,0.06,0.05,0.08,0.08,0.1,0.18,0.05,0.06,0.12,-0.01,0.03,0.21,0.08,
             0.01,0,-0.02,-0.01,0.08,0.1,0.05,0,-0.01]

PANELS = [
    [dict(days=r1l_days, satire=r1l_satire, nrlssi=r1l_nrlssi, mea11=r1l_mea11,
          series=[("UARS/SOLSTICE", 1, r1l_solstice), ("UARS/SOLSTICE", 3, r1l_solstice_b),
                  ("UARS/SUSIM", 3, r1l_susim), ("UARS/SUSIM", 1, r1l_susim_b)]),
     dict(days=r1r_days, satire=r1r_satire, nrlssi=r1r_nrlssi, mea11=r1r_mea11,
          series=[("TIMED/SEE", 0, r1r_see), ("TIMED/SEE", 2, r1r_see_b),
                  ("SORCE/SOLSTICE", 1, r1r_solstice), ("SORCE/SOLSTICE", 3, r1r_solstice_b),
                  ("UARS/SUSIM", 2, r1r_susim)])],
    [dict(days=r2l_days, satire=r2l_satire, nrlssi=r2l_nrlssi, mea11=r2l_mea11,
          series=[("NOAA-9/SBUV2", 0, r2l_noaa9), ("NOAA-11/SBUV2", 1, r2l_noaa11),
                  ("UARS/SOLSTICE", 2, r2l_solstice), ("UARS/SOLSTICE", 0, r2l_solstice_b),
                  ("UARS/SUSIM", 3, r2l_susim), ("UARS/SUSIM", 1, r2l_susim_b)]),
     dict(days=r2r_days, satire=r2r_satire, nrlssi=r2r_nrlssi, mea11=r2r_mea11,
          series=[("SORCE/SOLSTICE", 1, r2r_solstice), ("SORCE/SOLSTICE", 3, r2r_solstice_b),
                  ("UARS/SUSIM", 2, r2r_susim)])],
    [dict(days=r3l_days, satire=r3l_satire, nrlssi=r3l_nrlssi, mea11=r3l_mea11,
          series=[("NOAA-9/SBUV2", 0, r3l_noaa9), ("NOAA-11/SBUV2", 1, r3l_noaa11),
                  ("UARS/SOLSTICE", 2, r3l_solstice), ("UARS/SUSIM", 3, r3l_susim)]),
     dict(days=r3r_days, satire=r3r_satire, nrlssi=r3r_nrlssi, mea11=r3r_mea11,
          series=[("SORCE/SIM", 0, r3r_sim), ("SORCE/SOLSTICE", 1, r3r_solstice), ("UARS/SUSIM", 2, r3r_susim)])],
    [dict(days=r4l_days, satire=r4l_satire, nrlssi=r4l_nrlssi, mea11=r4l_mea11,
          series=[("NOAA-9/SBUV2", 0, r4l_noaa9), ("NOAA-11/SBUV2", 1, r4l_noaa11),
                  ("UARS/SOLSTICE", 2, r4l_solstice), ("UARS/SUSIM", 3, r4l_susim)]),
     dict(days=r4r_days, satire=r4r_satire, nrlssi=r4r_nrlssi, mea11=r4r_mea11,
          series=[("SORCE/SIM", 0, r4r_sim), ("UARS/SUSIM", 2, r4r_susim)])],
]

W, H = 400, 140
LABEL_EXPR = ("datum.value == 31 ? 'Apr' : (datum.value == 122 ? 'Jul' : "
              "(datum.value == 214 ? 'Oct' : ''))")


def inward(n):
    return alt.ExprRef(expr=str(-n))


def text_kw():
    return dict(labelFont=FONT, labelFontSize=15, labelColor="black",
                titleFont=FONT, titleFontSize=15, titleFontWeight="normal", titleColor="black")


def legend_layers(col):
    dummy = pd.DataFrame({"k": [0]})
    out = []
    if col == 0:
        entries = [("NOAA-9/SBUV2", "#1e8ff5", 90, 112), ("NOAA-11/SBUV2", "#00ec78", 91, 128),
                   ("UARS/SOLSTICE", "#ffa300", 311, 112), ("UARS/SUSIM", "#f00a0a", 318, 128)]
        for txt, c, x, y in entries:
            out.append(alt.Chart(dummy).mark_text(text=txt, font=FONT, fontSize=14, color=c,
                                                  align="center", baseline="middle")
                       .encode(x=alt.value(x), y=alt.value(y)))
        for txt, dash, y in [("Mea11", [2, 4], 9), ("NRLSSI", [9, 6], 25), ("SATIRE-S", [1, 0], 41)]:
            out.append(alt.Chart(dummy).mark_text(text=txt, font=FONT, fontSize=14, color="black",
                                                  align="right", baseline="middle")
                       .encode(x=alt.value(309), y=alt.value(y)))
            out.append(alt.Chart(dummy).mark_rule(color="black", strokeWidth=2, strokeDash=dash)
                       .encode(x=alt.value(317), x2=alt.value(376), y=alt.value(y)))
    else:
        entries = [("UARS/SUSIM", "#f00a0a", 92, 112), ("TIMED/SEE", "#1e8ff5", 92, 128),
                   ("SORCE/SIM", "#00ec78", 313, 112), ("SORCE/SOLSTICE", "#ffa300", 311, 128)]
        for txt, c, x, y in entries:
            out.append(alt.Chart(dummy).mark_text(text=txt, font=FONT, fontSize=14, color=c,
                                                  align="center", baseline="middle")
                       .encode(x=alt.value(x), y=alt.value(y)))
    return out


def panel(row, col):
    p = PANELS[row][col]
    xs = alt.Scale(domain=X_DOMAIN, nice=False, zero=False)
    ys = alt.Scale(domain=Y_DOMAINS[row], nice=False, zero=False)

    recs = []
    for name, start, vals in p["series"]:
        for i, v in enumerate(vals):
            if v is None:
                continue
            recs.append({"day": start + STEP * i, "val": v, "inst": name})
    sdf = pd.DataFrame(recs)

    bottom = row == 3
    xb = dict(orient="bottom", values=MONTH_DAYS, tickSize=inward(3), tickWidth=1.3, tickColor="black",
              domain=False, grid=False, labels=bottom, **text_kw())
    if bottom:
        xb.update(labelExpr=LABEL_EXPR, labelOverlap=False, labelPadding=8,
                  title="Month in " + YEARS[col], titlePadding=5)
    else:
        xb.update(title=None)
    yl = dict(orient="left", values=Y_TICKS[row], format=Y_FORMATS[row], tickSize=inward(7),
              tickWidth=1.3, tickColor="black", domain=False, grid=False, labels=(col == 0),
              labelPadding=14, **text_kw())
    if col == 0:
        yl.update(title="[%]", titleX=-58, titleY=H / 2, titleAngle=270, titleAlign="center",
                  titleBaseline="middle")
    else:
        yl.update(title=None)

    pts = alt.Chart(sdf).mark_point(shape="circle", size=30, strokeWidth=1.5, filled=False,
                                    opacity=1, clip=True).encode(
        x=alt.X("day:Q", scale=xs, axis=alt.Axis(**xb)),
        y=alt.Y("val:Q", scale=ys, axis=alt.Axis(**yl)),
        color=alt.Color("inst:N", scale=alt.Scale(domain=INSTRUMENTS, range=INST_COLORS), legend=None),
    )

    def line(vals, dash, width, axes):
        df = pd.DataFrame({"day": [d for d, _ in zip(p["days"], vals)],
                           "val": [v for _, v in zip(p["days"], vals)]})
        if axes:
            xt = alt.Axis(orient="top", values=MONTH_DAYS, tickSize=inward(3), tickWidth=1.3,
                          tickColor="black", domain=False, grid=False, labels=False, title=None)
            yr = dict(orient="right", values=Y_TICKS[row], tickSize=inward(7), tickWidth=1.3,
                      tickColor="black", domain=False, grid=False, labels=False, **text_kw())
            if col == 1:
                yr.update(title=BANDS[row], titleX=24, titleY=H / 2, titleAngle=270,
                          titleAlign="center", titleBaseline="middle")
            else:
                yr.update(title=None)
            enc = dict(x=alt.X("day:Q", scale=xs, axis=xt), y=alt.Y("val:Q", scale=ys, axis=alt.Axis(**yr)))
        else:
            enc = dict(x=alt.X("day:Q", scale=xs, axis=None), y=alt.Y("val:Q", scale=ys, axis=None))
        return alt.Chart(df).mark_line(color="black", strokeWidth=width, strokeDash=dash,
                                       clip=True).encode(**enc)

    layers = [pts,
              line(p["mea11"], [2, 3], 1.8, False),
              line(p["nrlssi"], [8, 5], 1.8, False),
              line(p["satire"], [1, 0], 2.0, True)]
    if row == 0:
        layers += legend_layers(col)
    ch = alt.layer(*layers).resolve_axis(x="independent", y="independent").properties(width=W, height=H)
    if row == 0:
        ch = ch.properties(title=alt.TitleParams(TITLES[col], font=FONT, fontSize=18, fontWeight="normal",
                                                 color="black", anchor="middle", offset=5))
    return ch


rows = [alt.hconcat(panel(r, 0), panel(r, 1), spacing=0) for r in range(4)]
chart = alt.vconcat(*rows, spacing=0).properties(
    padding={"left": 9, "top": 2, "right": 0, "bottom": 2}
).configure_view(stroke="black", strokeWidth=1.5)

chart.save("out.html", embed_options={"renderer": "svg", "actions": False})
